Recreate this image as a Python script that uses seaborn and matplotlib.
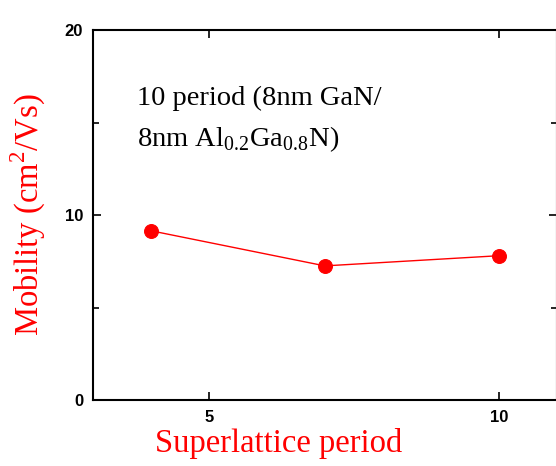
import matplotlib
matplotlib.use("Agg")
import matplotlib.pyplot as plt
import seaborn as sns
import pandas as pd
from matplotlib.ticker import MultipleLocator

periods = [4, 7, 10]
mobility = [9.15, 7.25, 7.8]

df = pd.DataFrame({"period": periods, "mobility": mobility})

sns.set_style("ticks")
plt.rcParams["font.family"] = ["Liberation Sans", "DejaVu Sans"]
plt.rcParams["text.color"] = "black"
plt.rcParams["xtick.color"] = "black"
plt.rcParams["ytick.color"] = "black"
plt.rcParams["mathtext.fontset"] = "custom"
plt.rcParams["mathtext.rm"] = "Liberation Serif"

fig = plt.figure(figsize=(5.56, 4.66), dpi=100)
# right spine sits just past the canvas edge, as in the reference crop
ax = fig.add_axes([0.167, 0.1416, 0.8345, 0.794])

sns.lineplot(data=df, x="period", y="mobility", ax=ax, color="red",
             linewidth=1, marker="o", markersize=10, markeredgecolor="red")

ax.set_xlim(3, 11)
ax.set_ylim(0, 20)
ax.xaxis.set_major_locator(MultipleLocator(5))
ax.yaxis.set_major_locator(MultipleLocator(10))
ax.yaxis.set_minor_locator(MultipleLocator(5))

for s in ax.spines.values():
    s.set_visible(True)
    s.set_linewidth(1.5)
    s.set_color("black")

ax.tick_params(which="both", direction="in", top=True, right=True,
               width=1.2, labelsize=12, colors="black")
ax.tick_params(which="major", length=6, pad=7)
ax.tick_params(which="minor", length=4)
for lab in ax.get_xticklabels() + ax.get_yticklabels():
    lab.set_fontweight("bold")

ax.set_xlabel("Superlattice period", color="red", fontsize=23.5,
              family="Liberation Serif", labelpad=3)
ax.xaxis.set_label_coords(0.40, -0.075)
ax.set_ylabel("Mobility (cm$^2$/Vs)", color="red", fontsize=23.5,
              family="Liberation Serif", labelpad=12)

ax.text(0.095, 0.85, "10 period (8nm GaN/\n8nm Al$_{0.2}$Ga$_{0.8}$N)",
        transform=ax.transAxes, fontsize=20.5, family="Liberation Serif",
        color="black", va="top", ha="left", linespacing=1.6)

fig.savefig("out.png", dpi=100)
